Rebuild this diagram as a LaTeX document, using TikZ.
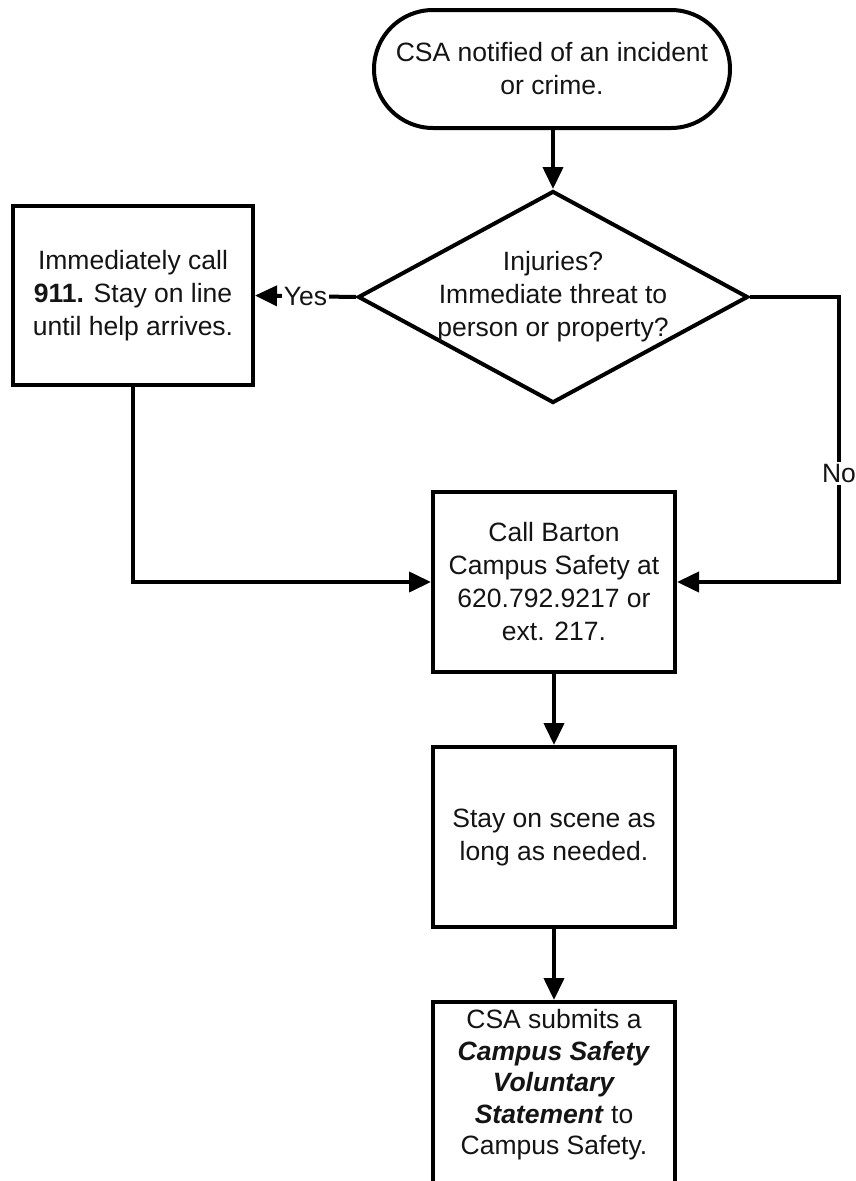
\documentclass[tikz,border=0pt]{standalone}
\usepackage{fontspec}
\setmainfont{Liberation Sans}
\usetikzlibrary{shapes.geometric,shapes.misc,arrows.meta}
\begin{document}
\begin{tikzpicture}[x=1pt,y=-1pt,
  txt/.style={font=\fontsize{26.5}{33}\selectfont, align=center, text=black!92},
  boxnode/.style={draw, line width=4pt, rectangle, inner sep=0pt, minimum width=242pt, minimum height=180pt, txt},
  termnode/.style={draw, line width=4pt, rounded rectangle, inner sep=0pt, minimum width=356pt, minimum height=118pt, txt},
  decnode/.style={draw, line width=4pt, diamond, inner sep=0pt, minimum width=390pt, minimum height=212pt},
  lbl/.style={txt, inner sep=0pt},
  arr/.style={line width=4pt, -{Triangle[length=22pt,width=20pt]}},
  yesno/.style={txt, fill=white, inner sep=2pt}
]
\useasboundingbox (0,0) rectangle (856,1181);
\fill[white] (0,0) rectangle (856,1181);

\node[termnode] (t) at (552,69) {CSA notified of an incident\\or crime.};
\node[decnode, label={[lbl]center:{Injuries?\\Immediate threat to\\person or property?}}] (d) at (553,297) {};
\node[boxnode, minimum width=240pt, minimum height=179pt] (b1) at (133,295.5) {Immediately call\\\textbf{911.} Stay on line\\until help arrives.};
\node[boxnode] (b2) at (554,582) {Call Barton\\Campus Safety at\\620.792.9217 or\\ext. 217.};
\node[boxnode] (b3) at (554,837) {Stay on scene as\\long as needed.};
\node[boxnode, minimum height=182pt, label={[lbl, font=\fontsize{26.5}{31.5}\selectfont, yshift=8pt]center:{CSA submits a\\\textbf{\textit{Campus Safety}}\\\textbf{\textit{Voluntary}}\\\textbf{\textit{Statement}} to\\Campus Safety.}}] (b4) at (554,1093) {};

\coordinate (nr) at (839,297);

\draw[arr] (t.south -| d.north) -- (d.north);
\draw[arr] (d.west) -- node[yesno] {Yes} (b1.east);
\draw[arr] (d.east) -- (nr) -- node[yesno, pos=0.62] {No} (nr |- b2.east) -- (b2.east);
\draw[arr] (b1.south) |- (b2.west);
\draw[arr] (b2.south) -- (b3.north);
\draw[arr] (b3.south) -- (b4.north);
\end{tikzpicture}
\end{document}
